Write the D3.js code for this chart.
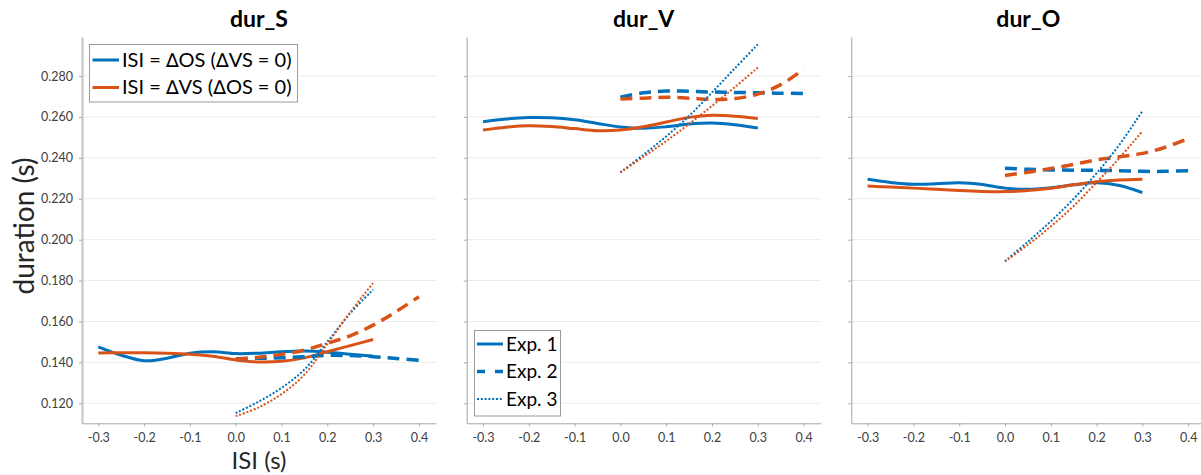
<!DOCTYPE html>
<html>
<head>
<meta charset="utf-8">
<script src="https://cdn.jsdelivr.net/npm/d3@7"></script>
<style>
  body { margin: 0; background: #fff; }
  svg text { font-family: Lato, "Open Sans", sans-serif; }
</style>
</head>
<body>
<svg id="chart" width="1201" height="475"></svg>
<script>
// ===== DATA =====
const panelTitles = ["dur_S", "dur_V", "dur_O"];
const xTicks = [-0.3, -0.2, -0.1, 0.0, 0.1, 0.2, 0.3, 0.4];
const yTicks = [0.12, 0.14, 0.16, 0.18, 0.20, 0.22, 0.24, 0.26, 0.28];

// ISI values (s) for each experiment
const isiExp1 = [-0.3, -0.25, -0.2, -0.15, -0.1, -0.05, 0, 0.05, 0.1, 0.15, 0.2, 0.25, 0.3];
const isiExp2 = [0, 0.05, 0.1, 0.15, 0.2, 0.25, 0.3, 0.35, 0.4];
const isiExp3 = [0, 0.05, 0.1, 0.15, 0.2, 0.25, 0.3];

// dur_S
const durS_OS_exp1 = [0.1476, 0.1435, 0.1408, 0.1420, 0.1445, 0.1452, 0.1443, 0.1445, 0.1452, 0.1455, 0.1450, 0.1440, 0.1430];
const durS_VS_exp1 = [0.1446, 0.1447, 0.1447, 0.1445, 0.1440, 0.1430, 0.1412, 0.1402, 0.1405, 0.1422, 0.1452, 0.1482, 0.1512];
const durS_OS_exp2 = [0.1418, 0.1420, 0.1422, 0.1428, 0.1434, 0.1433, 0.1428, 0.1419, 0.1410];
const durS_VS_exp2 = [0.1415, 0.1425, 0.1439, 0.1460, 0.1493, 0.1530, 0.1582, 0.1648, 0.1721];
const durS_OS_exp3 = [0.1152, 0.1208, 0.1275, 0.1365, 0.1500, 0.1640, 0.1755];
const durS_VS_exp3 = [0.1137, 0.1180, 0.1245, 0.1340, 0.1490, 0.1645, 0.1788];

// dur_V
const durV_OS_exp1 = [0.2577, 0.2590, 0.2597, 0.2596, 0.2586, 0.2568, 0.2551, 0.2545, 0.2552, 0.2565, 0.2570, 0.2562, 0.2546];
const durV_VS_exp1 = [0.2536, 0.2550, 0.2557, 0.2553, 0.2543, 0.2533, 0.2536, 0.2552, 0.2575, 0.2598, 0.2608, 0.2604, 0.2593];
const durV_OS_exp2 = [0.2696, 0.2718, 0.2727, 0.2726, 0.2722, 0.2720, 0.2718, 0.2716, 0.2715];
const durV_VS_exp2 = [0.2688, 0.2692, 0.2696, 0.2692, 0.2686, 0.2690, 0.2712, 0.2758, 0.2833];
const durV_OS_exp3 = [0.2329, 0.2415, 0.2505, 0.2605, 0.2720, 0.2838, 0.2955];
const durV_VS_exp3 = [0.2329, 0.2405, 0.2482, 0.2566, 0.2654, 0.2746, 0.2842];

// dur_O
const durO_OS_exp1 = [0.2295, 0.2280, 0.2271, 0.2273, 0.2278, 0.2270, 0.2252, 0.2246, 0.2254, 0.2268, 0.2278, 0.2265, 0.2230];
const durO_VS_exp1 = [0.2262, 0.2257, 0.2252, 0.2246, 0.2240, 0.2236, 0.2235, 0.2240, 0.2251, 0.2268, 0.2283, 0.2292, 0.2296];
const durO_OS_exp2 = [0.2349, 0.2344, 0.2341, 0.2340, 0.2339, 0.2337, 0.2334, 0.2334, 0.2337];
const durO_VS_exp2 = [0.2314, 0.2330, 0.2348, 0.2368, 0.2390, 0.2405, 0.2422, 0.2452, 0.2495];
const durO_OS_exp3 = [0.1895, 0.1990, 0.2090, 0.2200, 0.2325, 0.2465, 0.2629];
const durO_VS_exp3 = [0.1893, 0.1975, 0.2065, 0.2165, 0.2280, 0.2400, 0.2531];

const panelData = [
  [durS_OS_exp1, durS_VS_exp1, durS_OS_exp2, durS_VS_exp2, durS_OS_exp3, durS_VS_exp3],
  [durV_OS_exp1, durV_VS_exp1, durV_OS_exp2, durV_VS_exp2, durV_OS_exp3, durV_VS_exp3],
  [durO_OS_exp1, durO_VS_exp1, durO_OS_exp2, durO_VS_exp2, durO_OS_exp3, durO_VS_exp3]
];

const condLabels = ["ISI = \u2206OS (\u2206VS = 0)", "ISI = \u2206VS (\u2206OS = 0)"];
const expLabels = ["Exp. 1", "Exp. 2", "Exp. 3"];

// ===== STYLE =====
const BLUE = "#0072BD";
const ORANGE = "#D95319";
const expStyle = [
  { width: 3, dash: null },
  { width: 3.5, dash: "12,7" },
  { width: 2, dash: "2,1.8" }
];
const isiByExp = [isiExp1, isiExp2, isiExp3];

const panelLeft = [82, 466.7, 851.3];
const panelWidth = 354;
const plotTop = 37, plotBottom = 423.3;

const svg = d3.select("#chart");

const y = d3.scaleLinear().domain([0.1102, 0.2991]).range([plotBottom, plotTop]);

panelTitles.forEach((title, p) => {
  const x = d3.scaleLinear()
    .domain([-0.3356, 0.4373])
    .range([panelLeft[p], panelLeft[p] + panelWidth]);

  const g = svg.append("g");

  // grid
  g.selectAll("line.grid")
    .data(yTicks)
    .enter()
    .append("line")
    .attr("class", "grid")
    .attr("x1", panelLeft[p])
    .attr("x2", panelLeft[p] + panelWidth)
    .attr("y1", d => y(d))
    .attr("y2", d => y(d))
    .attr("stroke", "#ebebeb")
    .attr("stroke-width", 1);

  // axes
  const yAxis = d3.axisLeft(y).tickValues(yTicks).tickSize(3).tickSizeOuter(0).tickPadding(6)
    .tickFormat(p === 0 ? d3.format(".3f") : "");
  const ya = g.append("g").attr("transform", `translate(${panelLeft[p]},0)`).call(yAxis);

  const xAxis = d3.axisBottom(x).tickValues(xTicks).tickSize(3).tickSizeOuter(0).tickPadding(7)
    .tickFormat(d => d3.format(".1f")(d).replace("\u2212", "-"));
  const xa = g.append("g").attr("transform", `translate(0,${plotBottom})`).call(xAxis);

  [ya, xa].forEach(a => {
    a.select(".domain").attr("stroke", "#a6a6a6");
    a.selectAll(".tick line").attr("stroke", "#a6a6a6");
    a.selectAll(".tick text")
      .attr("fill", "#404040")
      .style("font-size", "12.5px")
      .style("font-family", "Lato, sans-serif");
  });
  if (p === 0) ya.select(".domain").attr("stroke", "#c4c4c4").attr("stroke-width", 2);

  // title
  g.append("text")
    .attr("x", panelLeft[p] + panelWidth / 2)
    .attr("y", 27)
    .attr("text-anchor", "middle")
    .style("font-size", "23px")
    .style("font-weight", "bold")
    .attr("fill", "#000")
    .text(title);

  // curves
  const line = d3.line()
    .x(d => x(d[0]))
    .y(d => y(d[1]))
    .curve(d3.curveCatmullRom.alpha(0.5));

  panelData[p].forEach((vals, i) => {
    const exp = Math.floor(i / 2);
    const color = i % 2 === 0 ? BLUE : ORANGE;
    const pts = isiByExp[exp].map((t, k) => [t, vals[k]]);
    g.append("path")
      .datum(pts)
      .attr("d", line)
      .attr("fill", "none")
      .attr("stroke", color)
      .attr("stroke-width", expStyle[exp].width)
      .attr("stroke-dasharray", expStyle[exp].dash)
      .attr("stroke-linecap", "butt");
  });
});

// ===== LEGENDS =====
const leg1 = svg.append("g");
leg1.append("rect")
  .attr("x", 89.5).attr("y", 44.5).attr("width", 208).attr("height", 57.5)
  .attr("fill", "#fff").attr("stroke", "#9a9a9a");
condLabels.forEach((lab, i) => {
  const ly = 60 + i * 27.5;
  leg1.append("line")
    .attr("x1", 92.5).attr("x2", 119).attr("y1", ly).attr("y2", ly)
    .attr("stroke", i === 0 ? BLUE : ORANGE).attr("stroke-width", 3);
  const t = leg1.append("text")
    .attr("x", 122).attr("y", ly + 6.5)
    .style("font-size", "20px").attr("fill", "#000");
  // delta sign drawn with DejaVu so it looks like the open triangle
  lab.split(/(\u2206)/).forEach(part => {
    if (!part) return;
    const s = t.append("tspan").text(part);
    if (part === "\u2206") s.style("font-family", "DejaVu Sans").style("font-size", "19px");
  });
});

const leg2 = svg.append("g");
leg2.append("rect")
  .attr("x", 474.5).attr("y", 330.5).attr("width", 86).attr("height", 85.5)
  .attr("fill", "#fff").attr("stroke", "#9a9a9a");
expLabels.forEach((lab, i) => {
  const ly = 344 + i * 27.5;
  leg2.append("line")
    .attr("x1", 477).attr("x2", 503).attr("y1", ly).attr("y2", ly)
    .attr("stroke", BLUE)
    .attr("stroke-width", expStyle[i].width)
    .attr("stroke-dasharray", i === 1 ? "8,10" : expStyle[i].dash);
  leg2.append("text")
    .attr("x", 506).attr("y", ly + 6.5)
    .style("font-size", "19px").attr("fill", "#000")
    .text(lab);
});

// ===== AXIS LABELS =====
svg.append("text")
  .attr("transform", "translate(34,226) rotate(-90)")
  .attr("text-anchor", "middle")
  .style("font-size", "28px").attr("fill", "#262626")
  .text("duration (s)");

svg.append("text")
  .attr("x", panelLeft[0] + panelWidth / 2)
  .attr("y", 469)
  .attr("text-anchor", "middle")
  .style("font-size", "24px").attr("fill", "#262626")
  .text("ISI (s)");
</script>
</body>
</html>
